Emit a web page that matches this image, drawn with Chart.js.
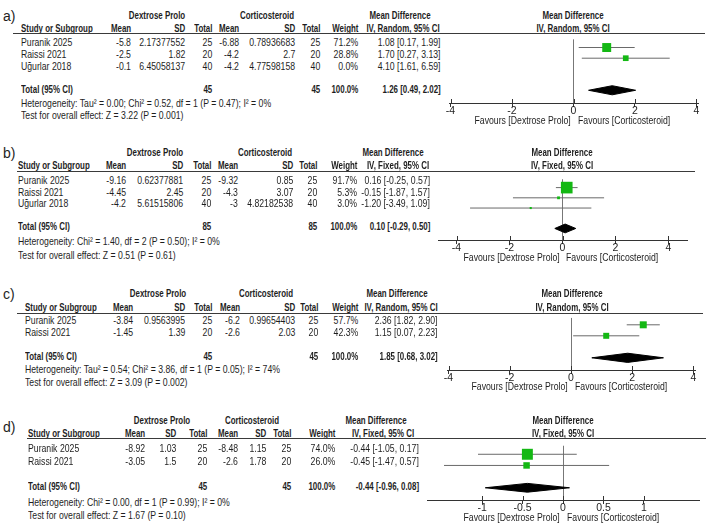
<!DOCTYPE html>
<html>
<head>
<meta charset="utf-8">
<script src="https://cdn.jsdelivr.net/npm/chart.js@4.4.1/dist/chart.umd.min.js"></script>
<style>
  body { margin: 0; background: #fff; }
  #wrap {
    position: relative; width: 709px; height: 528px; overflow: hidden; background: #fff;
    font-family: "Liberation Sans", Arial, sans-serif;
    font-size: 11px; color: #1e1e1e;
  }
  .t { position: absolute; white-space: nowrap; line-height: 12px; height: 12px; transform: scaleX(0.79); }
  .t.b { font-weight: bold; transform: scaleX(0.72); }
  .al { transform-origin: left center; }
  .ar { transform-origin: right center; }
  .ac { transform-origin: center center; }
  .t.tag { font-size: 14px; line-height: 16px; height: 16px; transform: none; }
  .rule { position: absolute; height: 0; border-top: 1px solid #3a3a3a; }
  canvas { position: absolute; }
</style>
</head>
<body>
<div id="wrap"></div>
<script>
// ---- datos del forest plot ----
const studiesA = ["Puranik 2025", "Raissi 2021", "Uğurlar 2018"];
const dpMeanA = [-5.8, -2.5, -0.1];
const dpSdA = [2.17377552, 1.82, 6.45058137];
const dpNA = [25, 20, 40];
const csMeanA = [-6.88, -4.2, -4.2];
const csSdA = [0.78936683, 2.7, 4.77598158];
const csNA = [25, 20, 40];
const weightA = [71.2, 28.8, 0.0];
const mdA = [1.08, 1.70, 4.10];
const loA = [0.17, 0.27, 1.61];
const hiA = [1.99, 3.13, 6.59];
const totalA = [1.26, 0.49, 2.02];
const totalNA = [45, 45];

const studiesB = ["Puranik 2025", "Raissi 2021", "Uğurlar 2018"];
const dpMeanB = [-9.16, -4.45, -4.2];
const dpSdB = [0.62377881, 2.45, 5.61515806];
const dpNB = [25, 20, 40];
const csMeanB = [-9.32, -4.3, -3];
const csSdB = [0.85, 3.07, 4.82182538];
const csNB = [25, 20, 40];
const weightB = [91.7, 5.3, 3.0];
const mdB = [0.16, -0.15, -1.20];
const loB = [-0.25, -1.87, -3.49];
const hiB = [0.57, 1.57, 1.09];
const totalB = [0.10, -0.29, 0.50];
const totalNB = [85, 85];

const studiesC = ["Puranik 2025", "Raissi 2021"];
const dpMeanC = [-3.84, -1.45];
const dpSdC = [0.9563995, 1.39];
const dpNC = [25, 20];
const csMeanC = [-6.2, -2.6];
const csSdC = [0.99654403, 2.03];
const csNC = [25, 20];
const weightC = [57.7, 42.3];
const mdC = [2.36, 1.15];
const loC = [1.82, 0.07];
const hiC = [2.90, 2.23];
const totalC = [1.85, 0.68, 3.02];
const totalNC = [45, 45];

const studiesD = ["Puranik 2025", "Raissi 2021"];
const dpMeanD = [-8.92, -3.05];
const dpSdD = [1.03, 1.5];
const dpND = [25, 20];
const csMeanD = [-8.48, -2.6];
const csSdD = [1.15, 1.78];
const csND = [25, 20];
const weightD = [74.0, 26.0];
const mdD = [-0.44, -0.45];
const loD = [-1.05, -1.47];
const hiD = [0.17, 0.57];
const totalD = [-0.44, -0.96, 0.08];
const totalND = [45, 45];

const ticksWide = [-4, -2, 0, 2, 4];
const ticksNarrow = [-1, -0.5, 0, 0.5, 1];

const methods = ["IV, Random, 95% CI", "IV, Fixed, 95% CI", "IV, Random, 95% CI", "IV, Fixed, 95% CI"];
const hetTexts = [
  "Heterogeneity: Tau² = 0.00; Chi² = 0.52, df = 1 (P = 0.47); I² = 0%",
  "Heterogeneity: Chi² = 1.40, df = 2 (P = 0.50); I² = 0%",
  "Heterogeneity: Tau² = 0.54; Chi² = 3.86, df = 1 (P = 0.05); I² = 74%",
  "Heterogeneity: Chi² = 0.00, df = 1 (P = 0.99); I² = 0%"
];
const testTexts = [
  "Test for overall effect: Z = 3.22 (P = 0.001)",
  "Test for overall effect: Z = 0.51 (P = 0.61)",
  "Test for overall effect: Z = 3.09 (P = 0.002)",
  "Test for overall effect: Z = 1.67 (P = 0.10)"
];
const favoursLeft = "Favours [Dextrose Prolo]";
const favoursRight = "Favours [Corticosteroid]";

const panels = [
  { tag: "a)", study: studiesA, dpMean: dpMeanA, dpSd: dpSdA, dpN: dpNA, csMean: csMeanA, csSd: csSdA, csN: csNA,
    weight: weightA, md: mdA, lo: loA, hi: hiA, total: totalA, totalN: totalNA, ticks: ticksWide },
  { tag: "b)", study: studiesB, dpMean: dpMeanB, dpSd: dpSdB, dpN: dpNB, csMean: csMeanB, csSd: csSdB, csN: csNB,
    weight: weightB, md: mdB, lo: loB, hi: hiB, total: totalB, totalN: totalNB, ticks: ticksWide },
  { tag: "c)", study: studiesC, dpMean: dpMeanC, dpSd: dpSdC, dpN: dpNC, csMean: csMeanC, csSd: csSdC, csN: csNC,
    weight: weightC, md: mdC, lo: loC, hi: hiC, total: totalC, totalN: totalNC, ticks: ticksWide },
  { tag: "d)", study: studiesD, dpMean: dpMeanD, dpSd: dpSdD, dpN: dpND, csMean: csMeanD, csSd: csSdD, csN: csND,
    weight: weightD, md: mdD, lo: loD, hi: hiD, total: totalD, totalN: totalND, ticks: ticksNarrow }
];

// ---- posiciones (pixeles) de cada panel ----
const layouts = [
  { tagY: 16, grpY: 15, hdrY: 28, ruleY: 33, ruleX: [13, 705], row0: 42, sp: 11.75, hetY: 103, testY: 114.5,
    c: { study: 21, dpMean: 131, dpSd: 185, dpN: 212, csMean: 239, csSd: 295, csN: 320, weight: 358, md: 441,
         dpGrp: 157, csGrp: 267, mdH1: 400, mdH2: 403, plotH: 573 },
    ax: { y: 103, left: 449, right: 698, min: -4.05, max: 4.05 }, k: 0.75 },
  { tagY: 153, grpY: 152, hdrY: 165, ruleY: 170.5, ruleX: [17, 695], row0: 180, sp: 11.6, hetY: 241, testY: 254.5,
    c: { study: 18, dpMean: 126, dpSd: 183, dpN: 211, csMean: 238, csSd: 293, csN: 317, weight: 357, md: 430,
         dpGrp: 155, csGrp: 265, mdH1: 393, mdH2: 398, plotH: 562 },
    ax: { y: 239.5, left: 437.7, right: 686.8, min: -4.7, max: 4.7 }, k: 0.86 },
  { tagY: 294, grpY: 293, hdrY: 306.5, ruleY: 312.5, ruleX: [17, 703], row0: 320, sp: 12, hetY: 369.3, testY: 381.7,
    c: { study: 25, dpMean: 133, dpSd: 185, dpN: 212, csMean: 240, csSd: 295, csN: 318, weight: 358, md: 438,
         dpGrp: 158, csGrp: 266, mdH1: 397, mdH2: 401, plotH: 571.5 },
    ax: { y: 369.3, left: 446.8, right: 694.8, min: -4.05, max: 4.05 }, k: 0.65 },
  { tagY: 427, grpY: 419.5, hdrY: 432.5, ruleY: 438.3, ruleX: [27, 706], row0: 448, sp: 12.7, hetY: 502.3, testY: 515,
    c: { study: 28, dpMean: 145, dpSd: 176, dpN: 207, csMean: 238, csSd: 266, csN: 291.5, weight: 335, md: 419,
         dpGrp: 161.5, csGrp: 252, mdH1: 376, mdH2: 383, plotH: 562.5 },
    ax: { y: 500, left: 427, right: 698.5, min: -1.68, max: 1.68 }, k: 0.9 }
];

const FONT = "'Liberation Sans', Arial, sans-serif";
const wrap = document.getElementById("wrap");

function put(x, cy, s, align, cls) {
  const d = document.createElement("div");
  d.className = "t " + (cls || "");
  d.textContent = s;
  d.style.top = (cy - 6) + "px";
  if (align === "r") { d.style.right = (709 - x) + "px"; d.classList.add("ar"); }
  else if (align === "c") {
    d.style.left = (x - 150) + "px"; d.style.width = "300px"; d.style.textAlign = "center"; d.classList.add("ac");
  }
  else { d.style.left = x + "px"; d.classList.add("al"); }
  wrap.appendChild(d);
}

function ciText(m, l, h) {
  return m.toFixed(2) + " [" + l.toFixed(2) + ", " + h.toFixed(2) + "]";
}

function drawTable(p, L) {
  const c = L.c;
  const tag = document.createElement("div");
  tag.className = "t tag";
  tag.textContent = p.tag;
  tag.style.left = "3px";
  tag.style.top = (L.tagY - 8) + "px";
  wrap.appendChild(tag);

  put(c.dpGrp, L.grpY, "Dextrose Prolo", "c", "b");
  put(c.csGrp, L.grpY, "Corticosteroid", "c", "b");
  put(c.mdH1, L.grpY, "Mean Difference", "c", "b");
  put(c.plotH, L.grpY, "Mean Difference", "c", "b");

  put(c.study, L.hdrY, "Study or Subgroup", "l", "b");
  put(c.dpMean, L.hdrY, "Mean", "r", "b");
  put(c.dpSd, L.hdrY, "SD", "r", "b");
  put(c.dpN, L.hdrY, "Total", "r", "b");
  put(c.csMean, L.hdrY, "Mean", "r", "b");
  put(c.csSd, L.hdrY, "SD", "r", "b");
  put(c.csN, L.hdrY, "Total", "r", "b");
  put(c.weight, L.hdrY, "Weight", "r", "b");
  put(c.mdH2, L.hdrY, p.method, "c", "b");
  put(c.plotH, L.hdrY, p.method, "c", "b");

  const r = document.createElement("div");
  r.className = "rule";
  r.style.left = L.ruleX[0] + "px";
  r.style.width = (L.ruleX[1] - L.ruleX[0]) + "px";
  r.style.top = L.ruleY + "px";
  wrap.appendChild(r);

  p.study.forEach((s, i) => {
    const y = L.row0 + i * L.sp;
    put(c.study, y, s, "l");
    put(c.dpMean, y, String(p.dpMean[i]), "r");
    put(c.dpSd, y, String(p.dpSd[i]), "r");
    put(c.dpN, y, String(p.dpN[i]), "r");
    put(c.csMean, y, String(p.csMean[i]), "r");
    put(c.csSd, y, String(p.csSd[i]), "r");
    put(c.csN, y, String(p.csN[i]), "r");
    put(c.weight, y, p.weight[i].toFixed(1) + "%", "r");
    put(c.md, y, ciText(p.md[i], p.lo[i], p.hi[i]), "r");
  });

  const ty = L.row0 + (p.study.length + 1) * L.sp;
  put(c.study, ty, "Total (95% CI)", "l", "b");
  put(c.dpN, ty, String(p.totalN[0]), "r", "b");
  put(c.csN, ty, String(p.totalN[1]), "r", "b");
  put(c.weight, ty, "100.0%", "r", "b");
  put(c.md, ty, ciText(p.total[0], p.total[1], p.total[2]), "r", "b");
  put(c.study, L.hetY, p.het, "l");
  put(c.study, L.testY, p.test, "l");
}

const tickUp = {
  id: "tickUp",
  afterDraw(chart) {
    const s = chart.scales.x, g = chart.ctx;
    g.save();
    g.strokeStyle = "#333";
    g.lineWidth = 1;
    s.ticks.forEach(t => {
      const x = Math.round(s.getPixelForValue(t.value)) + 0.5;
      g.beginPath();
      g.moveTo(x, s.top - 4);
      g.lineTo(x, s.top);
      g.stroke();
    });
    g.restore();
  }
};

function drawPlot(p, L) {
  const PAD = 16, AXH = 14;
  const a = L.ax;
  const el = document.createElement("canvas");
  const w = Math.round(a.right - a.left) + 2 * PAD;
  const h = Math.round(a.y - L.ruleY) + AXH;
  el.width = w; el.height = h;
  el.style.left = (a.left - PAD) + "px";
  el.style.top = L.ruleY + "px";
  wrap.appendChild(el);

  const shown = p.md.map((m, i) => i).filter(i => p.weight[i] > 0);
  const datasets = shown.map(i => ({
    data: [{ x: p.lo[i], y: i }, { x: p.hi[i], y: i }],
    showLine: true, borderColor: "#6a6a6a", borderWidth: 1, pointRadius: 0, clip: false, order: 3
  }));
  datasets.push({
    data: shown.map(i => ({ x: p.md[i], y: i })),
    pointStyle: "rect",
    pointRadius: shown.map(i => L.k * Math.sqrt(p.weight[i])),
    backgroundColor: "#14b814", borderWidth: 0, clip: false, order: 1
  });
  const ty = p.study.length + 1, dh = 5 / L.sp;
  const [est, lo, hi] = p.total;
  datasets.push({
    data: [{ x: lo, y: ty }, { x: est, y: ty - dh }, { x: hi, y: ty }, { x: est, y: ty + dh }, { x: lo, y: ty }],
    showLine: true, fill: "shape", backgroundColor: "#000", borderColor: "#000", borderWidth: 1,
    pointRadius: 0, clip: false, order: 2
  });

  const chart = new Chart(el, {
    type: "scatter",
    data: { datasets },
    plugins: [tickUp],
    options: {
      responsive: false, animation: false, events: [], devicePixelRatio: 1,
      layout: { padding: { left: PAD, right: PAD, top: 0, bottom: 0 } },
      plugins: { legend: { display: false }, tooltip: { enabled: false } },
      scales: {
        x: {
          type: "linear", min: a.min, max: a.max,
          afterBuildTicks: s => { s.ticks = p.ticks.map(v => ({ value: v })); },
          afterFit: s => { s.height = AXH; },
          border: { color: "#333", width: 1 },
          grid: {
            drawOnChartArea: true, tickLength: 4, tickColor: "#333",
            color: ctx => (ctx.tick && ctx.tick.value === 0) ? "#777" : "rgba(0,0,0,0)"
          },
          ticks: {
            autoSkip: false, maxRotation: 0, padding: -2, color: "#1e1e1e",
            font: { family: FONT, size: 10.5 },
            callback: v => String(v)
          }
        },
        y: {
          type: "linear", display: false, reverse: true,
          min: (L.ruleY - L.row0) / L.sp, max: (a.y - L.row0) / L.sp
        }
      }
    }
  });

  // etiquetas "Favours" a cada lado del cero
  const zx = a.left - PAD + chart.scales.x.getPixelForValue(0);
  put(zx - 3, a.y + 17, favoursLeft, "r");
  put(zx + 4, a.y + 17, favoursRight, "l");
}

panels.forEach((p, i) => {
  p.method = methods[i];
  p.het = hetTexts[i];
  p.test = testTexts[i];
  drawTable(p, layouts[i]);
  drawPlot(p, layouts[i]);
});
</script>
</body>
</html>
